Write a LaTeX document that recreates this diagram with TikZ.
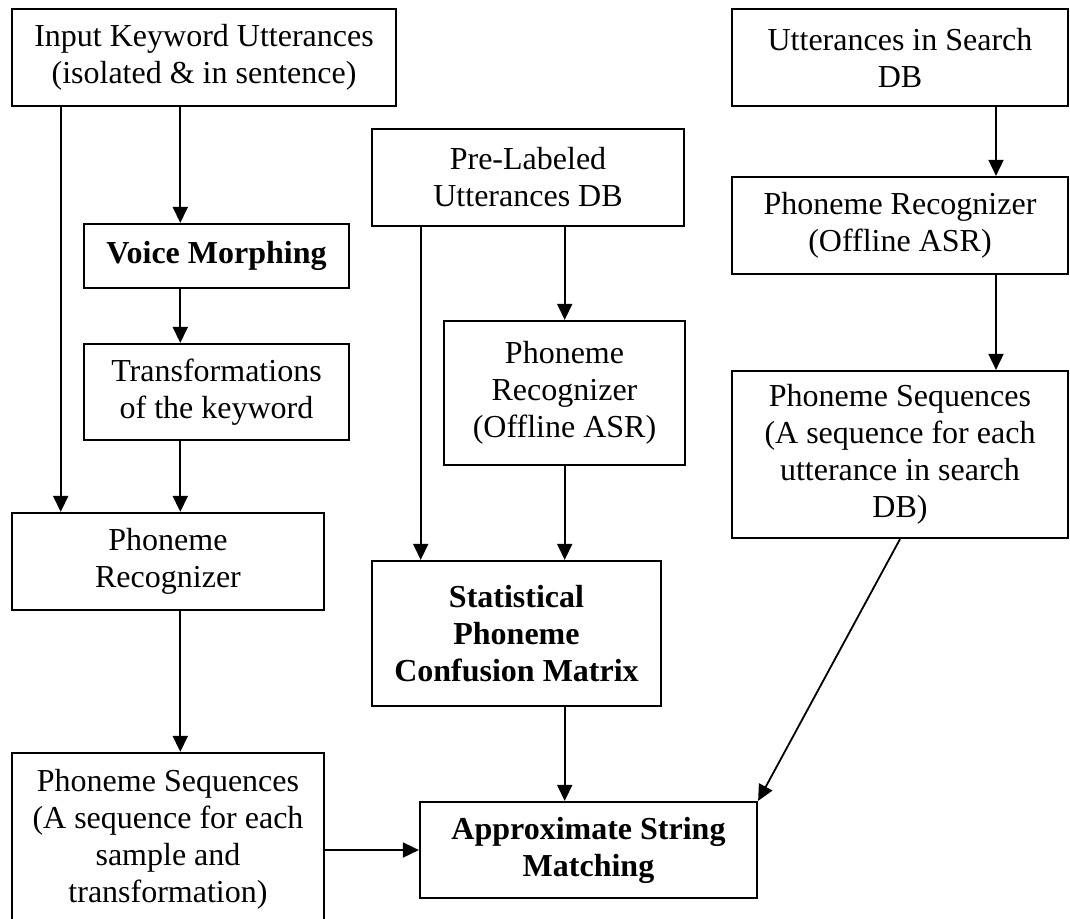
\documentclass[tikz,border=0pt]{standalone}
\usepackage{fontspec}
\setmainfont{Liberation Serif}
\usetikzlibrary{arrows.meta}
\tikzset{
  box/.style={draw, line width=2.2pt, inner sep=0pt, align=center,
    font=\fontsize{32}{37}\selectfont},
  bbox/.style={box, font=\fontsize{32}{37}\selectfont\bfseries},
  arr/.style={line width=1.8pt, -{Triangle[length=16pt,width=15pt]}}
}
\begin{document}
\begin{tikzpicture}[x=1pt,y=-1pt]
\useasboundingbox (0,0) rectangle (1070,918);
\clip (0,0) rectangle (1070,918);
% nodes
\node[box, minimum width=384pt, minimum height=97pt] (in) at (204,57.5) {Input Keyword Utterances\\(isolated \& in sentence)};
\node[bbox, minimum width=265pt, minimum height=64pt] (vm) at (216.5,256) {Voice Morphing};
\node[box, minimum width=265pt, minimum height=96pt] (tr) at (216.5,392) {Transformations\\of the keyword};
\node[box, minimum width=312pt, minimum height=97pt] (prL) at (168,561.5) {Phoneme\\Recognizer};
\node[box, minimum width=312pt, minimum height=172pt] (psL) at (168,839) {Phoneme Sequences\\(A sequence for each\\sample and\\transformation)};
\node[box, minimum width=312pt, minimum height=97pt] (pl) at (528,177.5) {Pre-Labeled\\Utterances DB};
\node[box, minimum width=241pt, minimum height=144pt] (prM) at (564.5,393) {Phoneme\\Recognizer\\(Offline ASR)};
\node[bbox, minimum width=289pt, minimum height=145pt] (stat) at (516.5,633.5) {Statistical\\Phoneme\\Confusion Matrix};
\node[bbox, minimum width=337pt, minimum height=96pt] (asm) at (588.5,850) {Approximate String\\Matching};
\node[box, minimum width=336pt, minimum height=97pt] (sdb) at (900,57.5) {Utterances in Search\\DB};
\node[box, minimum width=336pt, minimum height=97pt] (prR) at (900,225.5) {Phoneme Recognizer\\(Offline ASR)};
\node[box, minimum width=336pt, minimum height=167pt] (psR) at (900,454.5) {Phoneme Sequences\\(A sequence for each\\utterance in search\\DB)};
% x positions of vertical connectors
\coordinate (xa) at (60.7,0);
\coordinate (xb) at (180.3,0);
\coordinate (xc) at (420.7,0);
\coordinate (xd) at (564.7,0);
\coordinate (xe) at (996,0);
% connectors
\draw[arr] (in.south -| xa) -- (prL.north -| xa);
\draw[arr] (in.south -| xb) -- (vm.north -| xb);
\draw[arr] (vm.south -| xb) -- (tr.north -| xb);
\draw[arr] (tr.south -| xb) -- (prL.north -| xb);
\draw[arr] (prL.south -| xb) -- (psL.north -| xb);
\draw[arr] (pl.south -| xc) -- (stat.north -| xc);
\draw[arr] (pl.south -| xd) -- (prM.north -| xd);
\draw[arr] (prM.south -| xd) -- (stat.north -| xd);
\draw[arr] (stat.south -| xd) -- (asm.north -| xd);
\draw[arr] (sdb.south -| xe) -- (prR.north -| xe);
\draw[arr] (prR.south -| xe) -- (psR.north -| xe);
\draw[arr] (psL.east |- asm.west) -- (asm.west);
\draw[arr] (psR.south) -- (asm.north east);
\end{tikzpicture}
\end{document}
